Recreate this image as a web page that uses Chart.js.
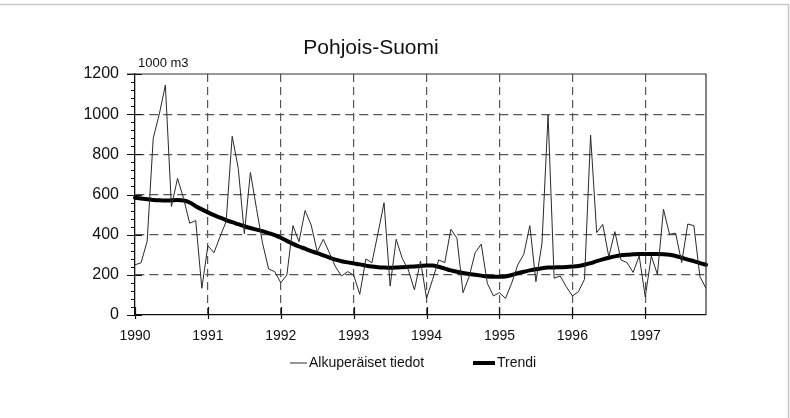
<!DOCTYPE html>
<html>
<head>
<meta charset="utf-8">
<script src="https://cdn.jsdelivr.net/npm/chart.js@4/dist/chart.umd.min.js"></script>
<style>
html,body{margin:0;padding:0;background:#fff;}
#wrap{width:790px;height:418px;position:relative;}
</style>
</head>
<body>
<div id="wrap"><canvas id="c" width="790" height="418"></canvas></div>
<script>
const titleText = 'Pohjois-Suomi';
const unitText = '1000 m3';
const years = ['1990','1991','1992','1993','1994','1995','1996','1997'];
const seriesNames = ['Alkuperäiset tiedot', 'Trendi'];
const yTicks = [0, 200, 400, 600, 800, 1000, 1200];

// monthly values, Jan 1990 - Nov 1997
const original = [
  250, 260, 367, 880, 1000, 1145, 540, 680, 580, 457, 470, 133,
  345, 310, 390, 465, 890, 730, 405, 710, 530, 357, 229, 216,
  161, 199, 445, 365, 520, 448, 315, 377, 310, 240, 194, 216,
  199, 103, 279, 260, 407, 559, 144, 377, 282, 224, 125, 269,
  83, 178, 274, 261, 427, 382, 111, 191, 310, 353, 158, 95,
  111, 83, 158, 249, 302, 445, 166, 357, 996, 183, 194, 141,
  95, 116, 178, 896, 410, 451, 290, 415, 274, 261, 212, 294,
  91, 294, 202, 526, 402, 407, 261, 453, 445, 191, 133
];
const trend = [
  584, 580, 576, 573, 571, 570, 571, 572, 570, 560, 542, 526,
  511, 497, 485, 473, 462, 452, 442, 433, 425, 417, 408, 398,
  385, 369, 354, 341, 330, 318, 308, 297, 286, 276, 268, 262,
  257, 252, 246, 241, 238, 236, 235, 236, 238, 240, 242, 244,
  246, 246, 240, 231, 222, 215, 209, 204, 200, 196, 192, 190,
  190, 192, 199, 208, 215, 222, 228, 233, 236, 237, 238, 239,
  241, 244, 250, 258, 268, 277, 285, 292, 297, 300, 302, 304,
  304, 304, 304, 303, 300, 294, 285, 276, 268, 258, 250
];

const monthLabels = [];
years.forEach(y => { for (let m = 1; m <= 12; m++) monthLabels.push(y + '-' + (m < 10 ? '0' + m : m)); });
const labels = monthLabels.slice(0, original.length);

const FONT = '"Liberation Sans", Arial, sans-serif';

const decor = {
  id: 'decor',
  beforeDraw(chart) {
    const ctx = chart.ctx;
    ctx.save();
    ctx.fillStyle = '#fff';
    ctx.fillRect(0, 0, chart.width, chart.height);
    ctx.strokeStyle = '#c8c8c8';
    ctx.lineWidth = 1.5;
    ctx.beginPath();
    ctx.moveTo(0, 4.5); ctx.lineTo(788.5, 4.5); ctx.lineTo(788.5, 418);
    ctx.stroke();
    ctx.restore();
  },
  afterDraw(chart) {
    const ctx = chart.ctx;
    const a = chart.chartArea;
    const xs = chart.scales.x, ys = chart.scales.y;
    ctx.save();
    ctx.strokeStyle = '#333';
    ctx.lineWidth = 1.2;
    ctx.beginPath();
    ctx.moveTo(a.left - 8, a.top); ctx.lineTo(a.right, a.top); ctx.lineTo(a.right, a.bottom);
    ctx.stroke();
    ctx.strokeStyle = '#111';
    ctx.lineWidth = 1.2;
    ctx.beginPath();
    for (let v = ys.min; v <= ys.max; v += 40) {
      const y = Math.round(ys.getPixelForValue(v)) + 0.5;
      if (v % 200 === 0) { ctx.moveTo(a.left - 8, y); ctx.lineTo(a.left + 7, y); }
      else { ctx.moveTo(a.left - 4, y); ctx.lineTo(a.left, y); }
    }
    for (let i = 0; i < labels.length; i += 12) {
      const x = Math.round(xs.getPixelForValue(i)) + 0.5;
      ctx.moveTo(x, a.bottom - 8); ctx.lineTo(x, a.bottom + 4);
    }
    ctx.stroke();
    ctx.fillStyle = '#111';
    ctx.textBaseline = 'middle';
    ctx.textAlign = 'center';
    ctx.font = '21px ' + FONT;
    ctx.fillText(titleText, 371, 48);
    ctx.textAlign = 'left';
    ctx.font = '13px ' + FONT;
    ctx.fillText(unitText, 138, 63);
    const ly = 363;
    const items = [{x: 290, w: 17}, {x: 473, w: 22}];
    ctx.font = '14px ' + FONT;
    chart.data.datasets.forEach((ds, i) => {
      const it = items[i];
      ctx.strokeStyle = ds.borderColor;
      ctx.lineWidth = ds.borderWidth;
      ctx.beginPath();
      ctx.moveTo(it.x, ly); ctx.lineTo(it.x + it.w, ly);
      ctx.stroke();
      ctx.fillStyle = '#111';
      ctx.fillText(ds.label, it.x + it.w + 2, ly);
    });
    ctx.restore();
  }
};

new Chart(document.getElementById('c'), {
  type: 'line',
  data: {
    labels: labels,
    datasets: [
      { label: seriesNames[0], data: original, borderColor: '#2a2a2a', borderWidth: 1, pointRadius: 0, tension: 0, fill: false },
      { label: seriesNames[1], data: trend, borderColor: '#000', borderWidth: 4, pointRadius: 0, cubicInterpolationMode: 'monotone', fill: false, borderCapStyle: 'round' }
    ]
  },
  options: {
    responsive: false,
    animation: false,
    layout: { padding: { top: 74, right: 84, left: 0, bottom: 73 } },
    plugins: { legend: { display: false }, title: { display: false }, tooltip: { enabled: false } },
    scales: {
      x: {
        type: 'category',
        offset: false,
        afterBuildTicks(scale) { scale.ticks = scale.ticks.filter(t => t.value % 12 === 0); },
        afterFit(scale) { scale.height = 30; },
        ticks: {
          autoSkip: false, maxRotation: 0, padding: 13, color: '#111',
          font: { family: FONT, size: 14 },
          callback(v) { return years[Math.floor(v / 12)]; }
        },
        grid: {
          drawTicks: false,
          color: ctx => (ctx.tick && ctx.tick.value === 0) ? 'rgba(0,0,0,0)' : '#555',
          lineWidth: 1.2
        },
        border: { display: true, color: '#111', width: 1.3, dash: [8, 5] }
      },
      y: {
        min: 0, max: 1200,
        afterBuildTicks(scale) { scale.ticks = yTicks.map(v => ({ value: v })); },
        afterFit(scale) { scale.width = 135; },
        ticks: { padding: 16, color: '#111', font: { family: FONT, size: 16 }, callback(v) { return String(v); } },
        grid: {
          drawTicks: false,
          color: ctx => (ctx.tick && (ctx.tick.value === 0 || ctx.tick.value === 1200)) ? 'rgba(0,0,0,0)' : '#555',
          lineWidth: 1.2
        },
        border: { display: true, color: '#111', width: 1.3, dash: [9, 5] }
      }
    }
  },
  plugins: [decor]
});
</script>
</body>
</html>
